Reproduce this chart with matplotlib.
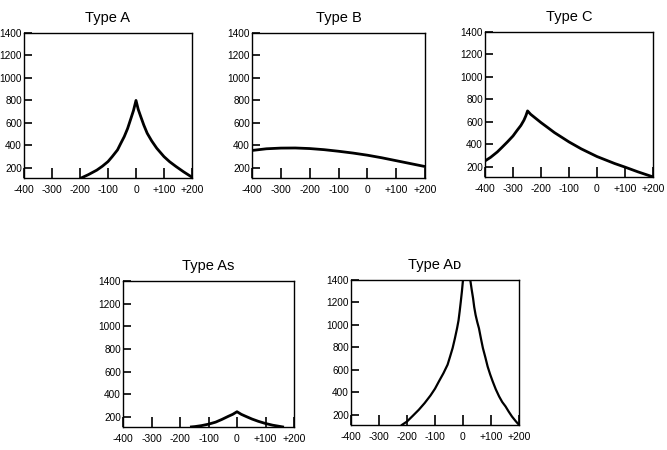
import matplotlib
matplotlib.use("Agg")
import matplotlib.pyplot as plt

plt.rcParams['font.family'] = ['Liberation Sans', 'DejaVu Sans']

x_ticks = [-400, -300, -200, -100, 0, 100, 200]
x_labels = ['-400', '-300', '-200', '-100', '0', '+100', '+200']
y_ticks = [200, 400, 600, 800, 1000, 1200, 1400]
y_labels = ['200', '400', '600', '800', '1000', '1200', '1400']

# Type A
a_x = [-195, -170, -140, -120, -100, -85, -66, -55, -42, -30, -18, -9, 0,
       8, 17, 28, 40, 56, 74, 100, 120, 143, 170, 200]
a_y = [111, 140, 180, 215, 256, 300, 360, 415, 478, 550, 641, 710, 800,
       720, 656, 580, 508, 440, 375, 300, 255, 212, 165, 117]

# Type B
b_x = [-400, -350, -300, -250, -200, -150, -100, -50, 0, 50, 100, 150, 200]
b_y = [355, 370, 376, 377, 372, 362, 348, 332, 313, 290, 264, 238, 212]

# Type C
c_x = [-400, -380, -356, -340, -320, -300, -285, -272, -261, -254, -248,
       -237, -225, -200, -175, -152, -125, -100, -56, 0, 63, 100, 146, 200]
c_y = [253, 285, 333, 372, 422, 475, 526, 568, 615, 655, 698,
       668, 644, 594, 548, 505, 462, 422, 360, 292, 230, 198, 156, 111]

# Type As
as_x = [-160, -147, -125, -100, -75, -53, -30, -15, 0,
        15, 30, 53, 75, 100, 125, 160]
as_y = [111, 114, 122, 135, 153, 177, 205, 222, 245,
        222, 205, 180, 160, 141, 126, 111]

# Type AD (two branches, clipped at 1400)
ad_lx = [-218, -200, -180, -158, -137, -116, -100, -86, -70, -55, -46, -37, -29, -21, -16, -12, -8, -4, 0]
ad_ly = [111, 141, 190, 245, 305, 373, 433, 498, 570, 647, 720, 795, 880, 973, 1040, 1119, 1205, 1296, 1400]
ad_rx = [26, 31, 36, 40, 45, 51, 57, 64, 71, 80, 88, 97, 106, 117, 129, 140, 152, 163, 175, 188, 200]
ad_ry = [1400, 1315, 1237, 1160, 1089, 1025, 970, 880, 795, 710, 630, 560, 498, 428, 364, 315, 275, 230, 185, 145, 111]

W, H = 667, 450
fig = plt.figure(figsize=(W / 100, H / 100), dpi=100)


def make_ax(left, right, top, bottom, title):
    ax = fig.add_axes([left / W, (H - bottom) / H, (right - left) / W, (bottom - top) / H])
    ax.set_xlim(-400, 200)
    ax.set_ylim(110, 1400)
    ax.set_xticks(x_ticks)
    ax.set_xticklabels(x_labels)
    ax.set_yticks(y_ticks)
    ax.set_yticklabels(y_labels)
    ax.tick_params(axis='x', direction='in', length=7, width=1.2, pad=5, labelsize=7.5)
    ax.tick_params(axis='y', direction='in', length=6, width=1.2, pad=1.5, labelsize=7.2)
    for s in ax.spines.values():
        s.set_linewidth(1.0)
        s.set_color('black')
    ax.set_title(title, fontsize=10.5, pad=8)
    return ax


axA = make_ax(24, 192, 33, 178, 'Type A')
axA.plot(a_x, a_y, color='black', lw=2.0, solid_joinstyle='round')

axB = make_ax(252, 425, 33, 178, 'Type B')
axB.plot(b_x, b_y, color='black', lw=2.0)

axC = make_ax(485, 653, 32, 177, 'Type C')
axC.plot(c_x, c_y, color='black', lw=2.0, solid_joinstyle='round')

axAs = make_ax(123, 294, 281, 427, 'Type As')
axAs.plot(as_x, as_y, color='black', lw=2.0)

axAD = make_ax(351, 519, 280, 425, 'Type A\u1D05')
axAD.plot(ad_lx, ad_ly, color='black', lw=1.6)
axAD.plot(ad_rx, ad_ry, color='black', lw=1.6)

fig.savefig('out.png', dpi=100)
